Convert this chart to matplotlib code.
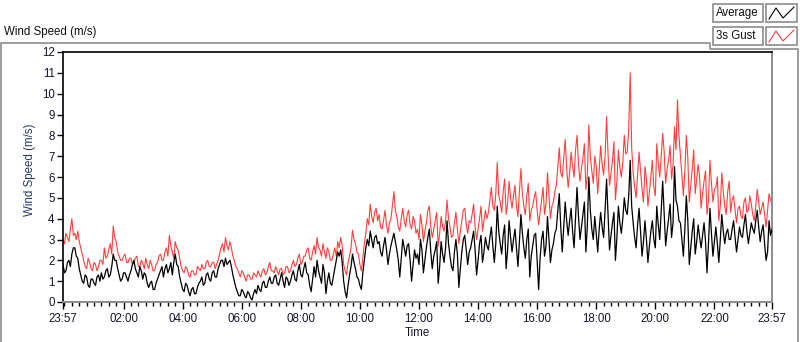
import numpy as np
import matplotlib
matplotlib.use("Agg")
import matplotlib.pyplot as plt
from matplotlib.lines import Line2D
from matplotlib.patches import Rectangle

# one sample every 3 minutes, starting at 23:57
sample_step_min = 3
start_label = "23:57"

gust = [
    3.0, 2.8, 3.3, 3.1, 2.9, 3.5, 4.0, 3.2, 3.3, 3.0, 3.4, 2.9,
    2.6, 2.3, 2.0, 1.7, 1.6, 2.1, 1.9, 1.6, 1.5, 1.9, 1.8, 1.5, 1.7, 2.0,
    2.0, 1.8, 2.6, 2.1, 2.2, 2.5, 2.8, 2.3,
    3.65, 3.1,
    2.9, 2.4, 2.2, 2.0, 2.0, 2.2, 2.3, 1.9, 1.9, 2.1,
    2.1, 1.8, 1.9, 2.1, 2.2, 1.7, 1.7, 2.0, 1.9, 1.6, 2.1, 1.8, 1.6, 2.0, 1.8, 1.5, 1.5, 1.8, 1.9, 2.2,
    2.3, 2.0, 2.0, 2.4, 2.6, 2.2, 3.2, 2.7, 2.4, 2.1, 2.9, 2.6, 2.5, 2.1,
    1.7, 1.5, 1.4, 1.7, 1.6, 1.3, 1.2, 1.5, 1.5, 1.3, 1.3, 1.7, 1.6, 1.5,
    1.8, 1.6, 1.6, 1.9, 2.0, 1.7, 1.7, 1.9, 1.9, 1.6, 1.8, 2.0,
    2.3, 2.6, 2.8, 2.4, 3.1, 2.7, 2.5, 2.9, 2.6, 2.2,
    2.0, 1.7, 1.6, 1.4, 1.2, 1.5,
    1.4, 1.2, 1.0, 1.3, 1.3, 1.1, 1.1, 1.4,
    1.3, 1.2, 1.5, 1.3, 1.2, 1.5, 1.6, 1.3, 1.4, 1.7, 1.9, 1.5,
    1.5, 1.4, 1.7, 1.5, 1.3, 1.6, 1.6, 1.3, 1.4, 1.7, 1.7, 1.4, 1.5, 1.8,
    2.0, 1.7, 1.8, 2.1, 2.3, 1.8, 1.9, 2.2, 2.2, 2.5,
    2.6, 2.1, 2.0, 2.4, 2.7, 2.3, 3.1, 2.6,
    2.5, 2.2, 2.8, 2.4, 2.1, 2.6, 2.4, 2.0, 2.0, 2.3, 2.6, 2.2,
    2.9, 2.6, 3.1, 2.7,
    1.8, 1.5, 1.3, 1.9, 2.2, 2.6,
    3.45, 3.0, 2.8, 2.4,
    2.3, 1.8, 1.5, 2.1, 2.8, 3.3,
    4.0, 3.7, 4.7, 4.1, 3.8, 4.3, 4.5, 3.9, 4.2, 3.6,
    3.5, 3.9, 4.4, 3.7, 3.3, 3.8, 4.0, 4.6,
    5.3, 4.4,
    4.1, 3.6, 3.4, 4.0, 4.5, 3.9, 3.6, 4.2, 4.4, 3.7, 3.5, 4.1, 3.9, 3.3,
    3.5, 3.0, 4.2, 3.7, 2.9, 3.4, 3.8, 4.4, 4.6, 3.6, 3.1, 3.5, 3.9, 4.3, 2.7, 3.3,
    4.1, 3.6, 3.4, 3.9, 4.9, 4.0, 3.6, 3.1, 3.2, 3.8, 4.3, 3.5, 2.8, 3.4, 3.9, 4.4,
    4.5, 3.7, 3.3, 3.9, 3.8, 4.2, 4.7, 3.6, 3.0, 3.5, 4.0, 4.6, 3.4, 3.9, 4.4, 4.0,
    4.3, 4.9, 5.5, 4.6, 4.4, 5.2, 6.7, 5.1, 4.8, 4.3, 5.3, 5.9, 4.2, 4.7, 5.8, 5.0,
    4.5, 5.1, 5.6, 4.6, 4.1, 5.3, 6.4, 5.2, 4.6, 4.2, 5.1, 5.7, 3.9, 4.4,
    4.6, 5.0, 5.3, 4.4, 3.7, 4.3, 4.9, 5.5, 4.2, 4.7, 6.2, 5.1, 4.0, 4.6, 4.8, 5.3,
    5.6, 6.5, 7.4, 6.2, 6.0, 6.9, 7.8, 6.4,
    5.5, 6.2, 7.2, 6.5, 6.0, 7.3, 8.0, 6.6, 5.8, 6.4, 6.9, 7.6, 5.4, 6.1, 8.5, 7.0, 6.3, 5.7, 7.0, 6.5,
    5.2, 6.3, 7.5, 6.6, 6.1, 7.0, 8.9, 7.1, 5.6, 6.2, 6.8, 7.7, 4.9, 5.8, 7.3, 6.5, 6.0, 6.7, 8.0, 7.1, 7.2, 8.3,
    11.0, 7.4,
    6.2, 5.5, 5.0, 6.1, 7.2, 6.3, 5.4, 4.8, 6.5, 5.9, 4.6, 5.3, 6.0, 6.8, 5.5, 5.1,
    7.6, 6.7, 6.0, 7.0, 8.1, 7.2, 5.7, 6.4, 6.8, 7.5, 5.9, 6.6, 8.4, 7.3,
    9.7, 8.0,
    7.0, 6.1, 5.1, 6.3, 8.0, 6.9, 4.8, 5.6, 6.4, 7.3, 5.2, 5.9, 6.6, 6.0,
    4.5, 5.2, 5.8, 6.3, 4.2, 4.9, 6.8, 5.7, 4.8, 5.4, 5.5, 6.0, 3.9, 4.6, 6.2, 5.3, 4.6, 4.2, 5.3, 5.8,
    4.3, 4.9, 5.1, 4.4, 3.8, 4.5, 4.6, 4.1, 4.0, 4.8, 5.0, 4.3, 4.4, 5.1, 4.7,
    4.2, 3.9, 4.6, 5.4, 4.8, 4.2, 4.5, 4.8, 4.2, 3.6, 4.4, 5.2, 4.9, 4.7,
]

average = [
    1.8, 1.4, 1.5, 1.9, 2.0, 1.7, 2.3, 2.6, 2.6, 2.2, 2.1, 1.6,
    1.3, 1.0, 0.9, 1.3, 1.2, 0.8, 0.7, 1.1, 1.1, 0.9, 0.8, 1.2, 1.3, 1.0,
    1.4, 1.1, 1.2, 1.5, 1.6, 1.2, 1.3, 1.7,
    2.3, 2.0,
    2.0, 1.6, 1.3, 1.0, 1.1, 1.4, 1.4, 1.2, 1.0, 1.3,
    1.5, 1.8, 2.0, 1.6, 1.4, 1.2, 1.7, 1.5, 1.1, 1.4, 1.3, 0.9, 0.7, 0.9, 1.0, 0.6, 0.6, 0.9, 1.1, 1.3,
    1.5, 1.7, 1.2, 1.6, 1.8, 1.4, 1.6, 1.9, 1.3, 1.9, 2.3, 1.8, 1.7, 1.2,
    0.9, 0.6, 0.5, 0.9, 0.8, 0.5, 0.3, 0.6, 0.7, 0.4, 0.4, 0.7, 0.9, 1.0,
    1.2, 0.8, 0.9, 1.3, 1.4, 1.1, 1.0, 1.4, 1.5, 1.2, 1.2, 1.6,
    1.8, 2.0, 2.0, 1.7, 2.1, 1.8, 1.9, 2.0, 1.7, 1.3,
    1.0, 0.7, 0.5, 0.3, 0.3, 0.6,
    0.5, 0.3, 0.2, 0.5, 0.4, 0.2, 0.1, 0.4,
    0.6, 0.4, 0.8, 0.6, 0.5, 0.9, 1.0, 0.7, 0.7, 1.0, 1.2, 0.9,
    0.9, 1.2, 1.3, 0.9, 0.8, 1.1, 1.4, 1.0, 0.7, 1.2, 1.1, 0.8, 1.0, 1.3,
    1.5, 1.1, 1.0, 1.5, 1.8, 1.3, 1.2, 1.6, 1.9, 1.4,
    1.3, 0.8, 0.5, 1.1, 1.7, 1.2, 2.0, 1.5,
    1.2, 0.9, 1.8, 1.4, 0.4, 1.0, 1.4, 0.9, 0.8, 1.2, 1.6, 2.0,
    2.4, 2.2, 2.5, 1.9,
    1.0, 0.5, 0.2, 0.8, 1.3, 1.7,
    2.3, 1.9, 1.6, 1.2,
    1.1, 0.8, 0.6, 1.4, 2.0, 2.6,
    3.0, 2.7, 3.4, 3.0, 2.6, 3.1, 3.2, 2.8, 2.9, 2.4,
    2.2, 2.7, 3.1, 2.5, 1.8, 2.3, 2.7, 3.0,
    3.3, 2.9,
    2.5, 2.0, 1.2, 2.1, 3.0, 2.6, 2.2, 2.7, 2.8, 2.0, 1.0, 1.8, 2.5, 2.1,
    2.3, 1.8, 3.0, 2.5, 1.4, 2.0, 2.6, 3.1, 3.5, 2.4, 1.6, 2.2, 2.5, 2.9, 0.9, 1.7,
    2.9, 2.3, 1.9, 2.6, 3.9, 2.8, 2.2, 1.7, 1.5, 2.4, 3.0, 2.3, 0.7, 1.6, 2.4, 3.0,
    3.2, 2.5, 1.8, 2.4, 2.6, 3.0, 3.4, 2.5, 1.3, 2.0, 2.8, 3.2, 1.9, 2.4, 3.1, 2.7,
    2.5, 3.1, 3.6, 2.7, 1.9, 2.8, 4.6, 3.4, 2.8, 2.3, 3.2, 3.7, 1.6, 2.5, 3.9, 3.1,
    2.4, 3.0, 3.5, 2.6, 1.7, 2.9, 4.2, 3.3, 2.6, 2.1, 3.0, 3.5, 1.2, 2.2,
    2.7, 3.2, 3.3, 2.0, 0.6, 2.1, 3.0, 3.4, 2.2, 2.7, 4.1, 3.0, 1.9, 2.5, 2.8, 3.3,
    3.5, 4.4, 5.2, 3.6, 2.4, 3.6, 4.8, 3.9,
    3.2, 3.9, 4.5, 3.4, 2.6, 4.0, 5.5, 4.1, 3.0, 3.6, 4.2, 4.8, 2.4, 3.7, 6.0, 4.4, 3.5, 3.0, 4.1, 3.3,
    2.4, 3.5, 4.3, 3.6, 3.1, 4.4, 5.9, 4.2, 2.5, 3.2, 3.8, 4.3, 2.0, 3.1, 4.6, 3.8, 3.3, 4.0, 5.0, 4.4, 4.2, 5.1,
    6.8, 4.6,
    3.8, 3.1, 2.6, 3.7, 4.5, 3.4, 2.2, 2.9, 3.9, 3.0, 1.9, 2.7, 3.4, 3.9, 3.0, 2.6,
    4.6, 3.7, 3.0, 4.4, 5.8, 4.3, 2.7, 3.4, 4.0, 4.7, 3.1, 3.8, 6.5, 4.9,
    4.6, 3.9,
    3.8, 3.0, 2.2, 3.5, 5.1, 3.9, 1.8, 2.6, 3.4, 4.0, 2.3, 2.9, 3.7, 3.1,
    2.6, 3.2, 3.8, 2.9, 1.4, 2.8, 4.5, 3.3, 2.2, 2.9, 3.6, 2.8, 1.9, 3.0, 4.2, 3.4, 2.8, 3.3, 3.5, 3.0,
    3.0, 3.5, 3.9, 3.1, 2.4, 3.0, 3.6, 3.2, 3.1, 3.7, 4.2, 3.4, 2.8, 3.3, 3.8,
    3.5, 3.3, 3.9, 4.4, 3.6, 2.9, 3.4, 3.7, 2.8, 2.0, 2.4, 3.9, 3.2, 3.5,
]

x_tick_labels = ["23:57", "02:00", "04:00", "06:00", "08:00", "10:00", "12:00",
                 "14:00", "16:00", "18:00", "20:00", "22:00", "23:57"]
y_ticks = list(range(0, 13))


def _minutes_after_start(label, start=start_label):
    h, m = map(int, label.split(":"))
    sh, sm = map(int, start.split(":"))
    d = (h * 60 + m) - (sh * 60 + sm)
    if d < 0:
        d += 24 * 60
    return d


span = 24 * 60
t_gust = np.arange(len(gust)) * sample_step_min
t_avg = np.arange(len(average)) * sample_step_min

tick_pos = [0] + [_minutes_after_start(l) for l in x_tick_labels[1:-1]] + [span]
minor_pos = np.arange(_minutes_after_start("00:00"), span, 15)

W, H = 800, 342
fig = plt.figure(figsize=(W / 100, H / 100), dpi=100)
fig.patch.set_facecolor("white")

font = ["Liberation Sans", "DejaVu Sans"]
tick_col = "#14142e"
grey = "#8c8c8c"


def fx(px):
    return px / W


def fy(py):
    return 1 - py / H


# outer panel frame
fig.add_artist(Line2D([fx(1), fx(1), fx(710), fx(710), fx(798), fx(798)],
                      [fy(342), fy(42.5), fy(42.5), fy(49), fy(49), fy(342)],
                      color=grey, lw=1.2, transform=fig.transFigure))
fig.text(fx(4), fy(32), "Wind Speed (m/s)", fontsize=8.3, family=font,
         color="#101010", va="center", ha="left")

ax = fig.add_axes([fx(63), fy(302), fx(772) - fx(63), fy(52) - fy(302)])

ax.plot(t_gust, gust, color="#ff3f3f", lw=0.8, zorder=2)
ax.plot(t_avg, average, color="black", lw=0.9, zorder=3)

ax.set_xlim(0, span)
ax.set_ylim(0, 12)
ax.set_yticks(y_ticks)
ax.set_yticklabels([str(v) for v in y_ticks], fontsize=8.3, family=font, color=tick_col)
ax.set_xticks(tick_pos)
ax.set_xticklabels(x_tick_labels, fontsize=8.3, family=font, color=tick_col)
ax.set_xticks(minor_pos, minor=True)
ax.tick_params(axis="x", which="major", length=5, width=1, pad=3, color="black")
ax.tick_params(axis="x", which="minor", length=3, width=1, color="black")
ax.tick_params(axis="y", which="major", length=4, width=1, pad=2, color="black")

for side in ("top", "left"):
    ax.spines[side].set_color("black")
    ax.spines[side].set_linewidth(1.2)
for side in ("bottom", "right"):
    ax.spines[side].set_color(grey)
    ax.spines[side].set_linewidth(1.4)

ax.set_xlabel("Time", fontsize=8.3, family=font, color=tick_col, labelpad=1)
ax.set_ylabel("Wind Speed (m/s)", fontsize=8.3, family=font, color="#253a6a")
ax.yaxis.set_label_coords(-0.038, 0.53)

# legend boxes (LabVIEW style)
for i, (name, col) in enumerate([("Average", "black"), ("3s Gust", "#ff3f3f")]):
    y0 = 4 + i * 23
    fig.add_artist(Rectangle((fx(713), fy(y0 + 18)), fx(50), 18 / H, transform=fig.transFigure,
                             facecolor="white", edgecolor=grey, lw=1.2))
    fig.text(fx(716), fy(y0 + 9), name, fontsize=8.3, family=font, color="#101010",
             va="center", ha="left")
    fig.add_artist(Rectangle((fx(766), fy(y0 + 18)), fx(31), 18 / H, transform=fig.transFigure,
                             facecolor="white", edgecolor=grey, lw=1.2))
    fig.add_artist(Line2D([fx(769), fx(776), fx(783), fx(794)],
                          [fy(y0 + 15), fy(y0 + 4), fy(y0 + 14), fy(y0 + 3)],
                          color=col, lw=0.8, transform=fig.transFigure))

fig.savefig("out.png", dpi=100)
